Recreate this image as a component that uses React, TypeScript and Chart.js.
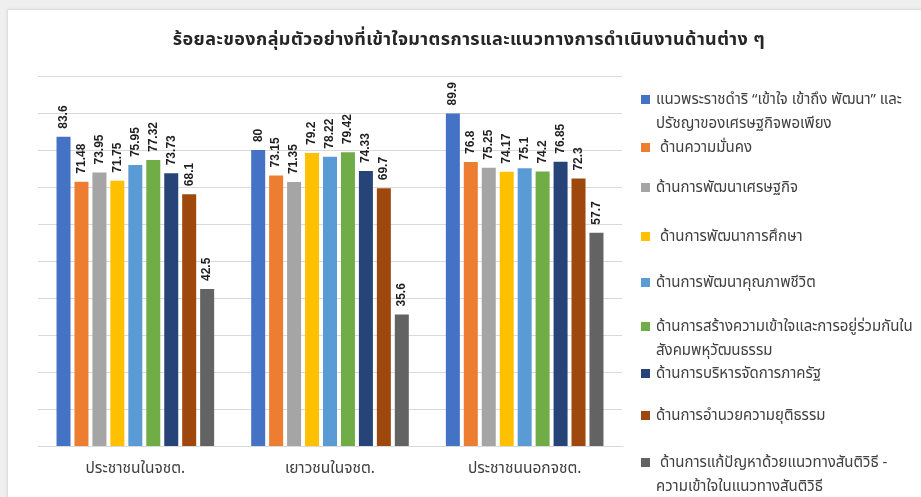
import React, { useEffect, useRef } from "react";
import { Chart, registerables } from "chart.js";

Chart.register(...registerables);

// ---- data ----
const categories = ["ประชาชนในจชต.", "เยาวชนในจชต.", "ประชาชนนอกจชต."];

const seriesNames = [
  "แนวพระราชดำริ “เข้าใจ เข้าถึง พัฒนา” และปรัชญาของเศรษฐกิจพอเพียง",
  "ด้านความมั่นคง",
  "ด้านการพัฒนาเศรษฐกิจ",
  "ด้านการพัฒนาการศึกษา",
  "ด้านการพัฒนาคุณภาพชีวิต",
  "ด้านการสร้างความเข้าใจและการอยู่ร่วมกันในสังคมพหุวัฒนธรรม",
  "ด้านการบริหารจัดการภาครัฐ",
  "ด้านการอำนวยความยุติธรรม",
  "ด้านการแก้ปัญหาด้วยแนวทางสันติวิธี - ความเข้าใจในแนวทางสันติวิธี",
];

// legend text as shown (with line breaks as in the picture)
const legendLines = [
  ["แนวพระราชดำริ “เข้าใจ เข้าถึง พัฒนา” และ", "ปรัชญาของเศรษฐกิจพอเพียง"],
  ["\u00a0ด้านความมั่นคง"],
  ["ด้านการพัฒนาเศรษฐกิจ"],
  ["\u00a0ด้านการพัฒนาการศึกษา"],
  ["ด้านการพัฒนาคุณภาพชีวิต"],
  ["ด้านการสร้างความเข้าใจและการอยู่ร่วมกันใน", "สังคมพหุวัฒนธรรม"],
  ["ด้านการบริหารจัดการภาครัฐ"],
  ["ด้านการอำนวยความยุติธรรม"],
  ["\u00a0ด้านการแก้ปัญหาด้วยแนวทางสันติวิธี -", "ความเข้าใจในแนวทางสันติวิธี"],
];

const s1 = [83.6, 80, 89.9];
const s2 = [71.48, 73.15, 76.8];
const s3 = [73.95, 71.35, 75.25];
const s4 = [71.75, 79.2, 74.17];
const s5 = [75.95, 78.22, 75.1];
const s6 = [77.32, 79.42, 74.2];
const s7 = [73.73, 74.33, 76.85];
const s8 = [68.1, 69.7, 72.3];
const s9 = [42.5, 35.6, 57.7];
const seriesValues = [s1, s2, s3, s4, s5, s6, s7, s8, s9];

const yMin = 0;
const yMax = 100;
const yStep = 10;

const title = "ร้อยละของกลุ่มตัวอย่างที่เข้าใจมาตรการและแนวทางการดำเนินงานด้านต่าง ๆ";

// ---- styles ----
const colors = [
  "#4472C4",
  "#ED7D31",
  "#A5A5A5",
  "#FFC000",
  "#5B9BD5",
  "#70AD47",
  "#264478",
  "#9E480E",
  "#636363",
];
const legendTops = [100, 148, 188, 237, 283, 327, 374, 416, 463];
const THAI = "'Noto Sans Thai', 'Noto Sans Thai UI', 'Noto Looped Thai', Tahoma, 'Garuda', 'Loma', 'Noto Sans', sans-serif";

const labelPlugin = {
  id: "barValueLabels",
  afterDatasetsDraw(chart: any) {
    const ctx = chart.ctx;
    chart.data.datasets.forEach((ds: any, i: number) => {
      const meta = chart.getDatasetMeta(i);
      meta.data.forEach((bar: any, j: number) => {
        const v = ds.data[j];
        ctx.save();
        ctx.translate(bar.x, bar.y - 8);
        ctx.rotate(-Math.PI / 2);
        ctx.font = "bold 12px 'Liberation Sans', Arial, sans-serif";
        ctx.fillStyle = "#1f1f1f";
        ctx.textAlign = "left";
        ctx.textBaseline = "middle";
        ctx.fillText(String(v), 0, 0);
        ctx.restore();
      });
    });
  },
};

export default function App() {
  const ref = useRef<HTMLCanvasElement | null>(null);

  useEffect(() => {
    if (!ref.current) return;
    const chart = new Chart(ref.current, {
      type: "bar",
      data: {
        labels: categories,
        datasets: seriesValues.map((vals, i) => ({
          label: seriesNames[i],
          data: vals,
          backgroundColor: colors[i],
          borderWidth: 0,
          categoryPercentage: 0.83,
          barPercentage: 0.78,
        })),
      },
      options: {
        animation: false,
        responsive: false,
        devicePixelRatio: 1,
        layout: { padding: { left: 38, right: 299, top: 76, bottom: 4 } },
        plugins: {
          legend: { display: false },
          title: { display: false },
          tooltip: { enabled: false },
        },
        scales: {
          x: {
            grid: { display: false, drawTicks: false },
            border: { display: true, color: "#d9d9d9" },
            ticks: {
              padding: 14,
              color: "#404040",
              font: { family: THAI, size: 15.5 },
            },
          },
          y: {
            min: yMin,
            max: yMax,
            ticks: { stepSize: yStep, display: false },
            grid: { color: "#d9d9d9", drawTicks: false },
            border: { display: false },
          },
        },
      },
      plugins: [labelPlugin],
    });
    return () => chart.destroy();
  }, []);

  return (
    <div
      style={{
        position: "fixed",
        left: 0,
        top: 0,
        width: 921,
        height: 497,
        background: "#efefef",
        overflow: "hidden",
      }}
    >
      <div
        style={{
          position: "absolute",
          left: 7,
          top: 9,
          width: 930,
          height: 500,
          background: "#ffffff",
          border: "1px solid #dedede",
          boxShadow: "0 0 3px rgba(0,0,0,0.08)",
        }}
      />
      <canvas
        ref={ref}
        width={921}
        height={497}
        style={{ position: "absolute", left: 0, top: 0, width: 921, height: 497 }}
      />
      <div
        style={{
          position: "absolute",
          left: 0,
          width: 938,
          top: 27,
          textAlign: "center",
          fontFamily: THAI,
          fontWeight: "bold",
          fontSize: 18,
          letterSpacing: "0.4px",
          color: "#262626",
          whiteSpace: "nowrap",
          lineHeight: "26px",
        }}
      >
        {title}
      </div>
      {legendLines.map((lines, i) => (
        <div
          key={i}
          style={{
            position: "absolute",
            left: 641,
            top: legendTops[i] - 12,
            fontFamily: THAI,
            fontSize: 15,
            color: "#404040",
            lineHeight: "24px",
            whiteSpace: "nowrap",
          }}
        >
          <span
            style={{
              position: "absolute",
              left: 0,
              top: 7,
              width: 9,
              height: 9,
              background: colors[i],
            }}
          />
          {lines.map((ln, k) => (
            <div key={k} style={{ paddingLeft: 15 }}>
              {ln}
            </div>
          ))}
        </div>
      ))}
    </div>
  );
}
